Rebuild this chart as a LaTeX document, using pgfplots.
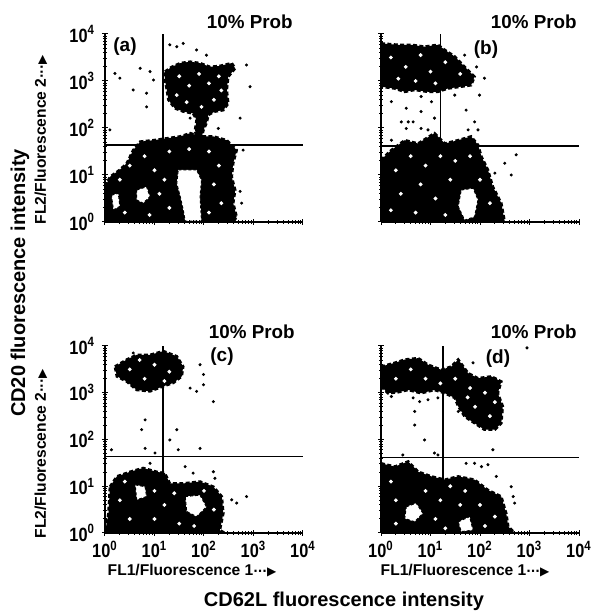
\documentclass[border=0pt]{standalone}
\usepackage{fontspec}
\setmainfont{Liberation Sans}
\newfontfamily\narrow[FakeStretch=0.85]{Liberation Sans}
\newfontfamily\dejavu{DejaVu Sans}
\usepackage{pgfplots}
\pgfplotsset{compat=1.18}

% minor ticks at log10(2..9) in each decade (axes are in decades)
\newcommand{\mticks}{0.301,0.477,0.602,0.699,0.778,0.845,0.903,0.954,
1.301,1.477,1.602,1.699,1.778,1.845,1.903,1.954,
2.301,2.477,2.602,2.699,2.778,2.845,2.903,2.954,
3.301,3.477,3.602,3.699,3.778,3.845,3.903,3.954}

\pgfplotsset{
  facs/.style={
    scale only axis, width=99pt, height=94pt,
    xmin=0, xmax=4, ymin=0, ymax=4,
    axis x line*=bottom, axis y line*=left,
    axis line style={line width=0.9pt},
    axis on top,
    xtick={0,1,2,3,4}, ytick={0,1,2,3,4},
    minor xtick=\mticks, minor ytick=\mticks,
    tick align=center, major tick length=3pt, minor tick length=2pt,
    tick style={black, line width=0.5pt},
    xticklabels={}, yticklabels={},
    tick label style={font=\narrow\bfseries\fontsize{9.6}{10}\selectfont},
    xticklabel style={yshift=1pt},
  },
  ylab/.style={yticklabels={10\textsuperscript{0},10\textsuperscript{1},10\textsuperscript{2},10\textsuperscript{3},10\textsuperscript{4}}},
  xlab/.style={xticklabels={10\textsuperscript{0},10\textsuperscript{1},10\textsuperscript{2},10\textsuperscript{3},10\textsuperscript{4}}},
  blob/.style={fill=black, draw=black, line width=1.3pt, dash pattern=on 2pt off 1.2pt},
  hole/.style={fill=white, draw=black, line width=0.5pt, dash pattern=on 1.5pt off 1pt},
  dots/.style={only marks, mark=*, mark size=0.55pt, black},
  specks/.style={only marks, mark=*, mark size=0.75pt, white},
  quad/.style={line width=0.7pt, black},
}

\begin{document}
\begin{tikzpicture}
\path[use as bounding box] (0,0) rectangle (296pt,305.5pt);

% ---------- (a)
\begin{axis}[facs, ylab, at={(52.5pt,194.5pt)}, anchor=south west]
\addplot[blob] coordinates {(1.21,3.20) (1.35,3.30) (1.52,3.38) (1.72,3.41) (1.92,3.38) (2.12,3.30) (2.32,3.32) (2.56,3.38) (2.63,3.27) (2.49,3.09) (2.46,2.81) (2.49,2.52) (2.39,2.38) (2.22,2.35) (2.09,2.28) (2.05,2.10) (1.99,1.96) (1.95,1.78) (1.85,1.74) (1.82,1.96) (1.85,2.17) (1.78,2.31) (1.58,2.35) (1.41,2.42) (1.28,2.60) (1.25,2.81) (1.21,3.02)} -- cycle;
\addplot[blob] coordinates {(0,0.75) (0.10,0.96) (0.30,1.11) (0.44,1.25) (0.57,1.53) (0.71,1.71) (0.98,1.74) (1.25,1.78) (1.52,1.82) (1.72,1.89) (1.92,1.82) (2.19,1.82) (2.46,1.74) (2.66,1.53) (2.59,1.25) (2.56,0.96) (2.63,0.68) (2.59,0.40) (2.66,0.11) (2.59,0) (0,0)} -- cycle;
\addplot[hole] coordinates {(1.48,1.11) (1.85,1.11) (1.95,0.89) (1.92,0.54) (1.95,0.02) (1.62,0.02) (1.58,0.26) (1.52,0.54) (1.45,0.82)} -- cycle;
\addplot[hole] coordinates {(0.64,0.68) (0.84,0.75) (0.91,0.54) (0.77,0.40) (0.64,0.47)} -- cycle;
\addplot[hole] coordinates {(0.13,0.57) (0.27,0.61) (0.30,0.33) (0.17,0.26)} -- cycle;
\addplot[specks] coordinates {(1.5,3.1) (1.7,2.9) (1.9,3.15) (2.1,2.95) (2.3,3.1) (1.45,2.7) (2.2,2.6) (1.65,2.55) (1.95,2.45) (2.35,2.8) (0.3,0.9) (0.5,1.2) (0.8,1.4) (1.0,1.1) (1.3,1.5) (1.7,1.55) (2.1,1.5) (2.3,1.2) (2.2,0.8) (2.35,0.4) (1.1,0.6) (1.3,0.3) (0.4,0.2) (0.9,0.15) (2.1,0.2) (1.2,0.9) (0.2,0.45)};
\addplot[quad] coordinates {(1.17,0) (1.17,4)};
\addplot[quad] coordinates {(0,1.64) (4,1.64)};
\addplot[dots] coordinates {(0.20,3.16) (0.30,3.06) (0.71,3.27) (0.91,3.20) (0.98,3.02) (0.57,2.81) (0.84,2.74) (1.31,3.77) (1.45,3.73) (1.58,3.80) (1.85,3.66) (2.05,3.55) (2.86,3.34) (2.93,2.88) (2.73,2.21) (2.29,1.99) (1.72,2.21) (0.10,1.96) (0.84,2.45) (2.73,0.65) (2.76,0.40) (2.79,1.53)};
\end{axis}

% ---------- (b)
\begin{axis}[facs, at={(190.5pt,194.5pt)}, anchor=south west]
\addplot[blob] coordinates {(0,3.80) (0.34,3.77) (0.61,3.77) (0.88,3.73) (1.15,3.77) (1.29,3.66) (1.49,3.52) (1.69,3.30) (1.89,3.09) (1.82,2.91) (1.62,2.88) (1.35,2.84) (1.15,2.77) (0.95,2.77) (0.68,2.81) (0.48,2.77) (0.28,2.84) (0,2.88)} -- cycle;
\addplot[blob] coordinates {(0,1.32) (0.21,1.53) (0.48,1.74) (0.75,1.67) (1.08,1.89) (1.29,1.67) (1.56,1.74) (1.82,1.82) (1.96,1.64) (2.03,1.39) (2.16,1.11) (2.26,0.75) (2.43,0.40) (2.50,0) (0,0)} -- cycle;
\addplot[hole] coordinates {(1.62,0.68) (1.86,0.72) (1.96,0.47) (1.89,0.11) (1.69,0.04) (1.56,0.33)} -- cycle;
\addplot[specks] coordinates {(0.2,3.5) (0.5,3.3) (0.8,3.55) (1.0,3.2) (1.3,3.4) (1.6,3.15) (0.35,3.05) (0.7,3.0) (1.1,2.95) (0.3,1.1) (0.6,1.4) (0.9,1.2) (1.2,1.4) (1.5,1.3) (1.8,1.4) (0.4,0.6) (0.8,0.8) (1.1,0.5) (1.4,0.9) (2.0,0.9) (2.2,0.4) (0.2,0.25) (0.7,0.2) (1.3,0.15)};
\addplot[quad] coordinates {(1.20,0) (1.20,4)};
\addplot[quad] coordinates {(0,1.62) (4,1.62)};
\addplot[dots] coordinates {(0.21,2.56) (0.51,2.42) (0.41,2.13) (0.55,2.13) (0.65,2.13) (0.51,1.99) (0.81,2.35) (1.02,2.56) (0.81,1.99) (0.95,1.96) (0.21,1.74) (1.72,2.38) (1.89,2.13) (1.76,1.96) (1.96,1.96) (2.09,3.06) (1.93,3.30) (1.99,2.70) (1.69,3.55) (2.73,1.43) (2.50,1.25) (2.63,1.00) (2.30,1.04) (1.08,2.21) (0.81,2.67) (1.49,2.70)};
\end{axis}

% ---------- (c)
\begin{axis}[facs, ylab, xlab, height=93.5pt, at={(52.5pt,39pt)}, anchor=south west]
\addplot[blob] coordinates {(0.20,3.56) (0.44,3.71) (0.64,3.81) (0.91,3.81) (1.18,3.89) (1.45,3.78) (1.58,3.56) (1.55,3.35) (1.38,3.21) (1.18,3.14) (0.91,3.03) (0.64,3.06) (0.44,3.24) (0.24,3.35)} -- cycle;
\addplot[blob] coordinates {(0.10,0.99) (0.24,1.21) (0.51,1.31) (0.77,1.39) (1.04,1.31) (1.21,1.28) (1.31,1.06) (1.58,1.06) (1.92,1.10) (2.19,0.99) (2.36,0.78) (2.39,0.42) (2.32,0.06) (2.42,0) (0,0) (0.07,0.42)} -- cycle;
\addplot[hole] coordinates {(0.61,1.03) (0.81,0.99) (0.84,0.78) (0.64,0.71)} -- cycle;
\addplot[hole] coordinates {(1.62,0.78) (1.92,0.81) (2.05,0.56) (1.85,0.35) (1.65,0.46)} -- cycle;
\addplot[specks] coordinates {(0.5,3.5) (0.8,3.3) (1.0,3.6) (1.3,3.45) (0.7,3.7) (1.2,3.25) (0.3,0.7) (0.4,1.1) (1.0,0.9) (1.2,0.6) (1.4,0.85) (2.2,0.5) (1.0,0.3) (0.5,0.3) (1.5,0.2) (2.0,0.9) (1.8,0.15)};
\addplot[quad] coordinates {(1.17,0) (1.17,4)};
\addplot[quad] coordinates {(0,1.64) (4,1.64)};
\addplot[dots] coordinates {(0.57,3.85) (1.92,3.60) (1.99,3.39) (1.72,3.10) (1.85,3.03) (2.19,2.81) (1.99,3.17) (0.81,2.42) (0.74,2.21) (0.81,1.81) (0.13,1.78) (1.45,2.21) (1.31,1.99) (1.48,1.78) (1.92,1.81) (1.01,1.71) (1.78,1.28) (2.19,1.31) (2.22,1.17) (2.66,0.64) (2.86,0.78) (2.56,0.71) (0.91,1.49) (1.62,1.42)};
\end{axis}

% ---------- (d)
\begin{axis}[facs, xlab, height=93.5pt, at={(190.5pt,39pt)}, anchor=south west]
\addplot[blob] coordinates {(0,3.56) (0.28,3.64) (0.48,3.71) (0.75,3.74) (0.95,3.60) (1.22,3.49) (1.42,3.56) (1.56,3.71) (1.76,3.42) (1.96,3.31) (2.23,3.35) (2.43,3.24) (2.36,2.99) (2.46,2.71) (2.43,2.35) (2.30,2.21) (2.09,2.21) (1.89,2.35) (1.69,2.49) (1.56,2.71) (1.49,2.89) (1.29,2.99) (1.08,3.06) (0.81,2.99) (0.55,3.06) (0.34,3.01) (0.14,2.99) (0,3.14)} -- cycle;
\addplot[blob] coordinates {(0,1.49) (0.28,1.42) (0.55,1.53) (0.75,1.31) (1.02,1.21) (1.29,1.14) (1.56,1.21) (1.89,1.14) (2.16,0.92) (2.43,0.78) (2.53,0.42) (2.57,0.14) (2.70,0) (0,0)} -- cycle;
\addplot[hole] coordinates {(0.51,0.56) (0.71,0.64) (0.85,0.42) (0.68,0.24) (0.48,0.31)} -- cycle;
\addplot[hole] coordinates {(1.56,0.24) (1.79,0.35) (1.86,0.06) (1.62,0.03)} -- cycle;
\addplot[specks] coordinates {(0.3,3.3) (0.6,3.5) (0.9,3.3) (1.2,3.2) (1.5,3.3) (1.8,3.1) (2.1,3.0) (1.9,2.7) (2.2,2.5) (1.75,2.9) (2.3,2.8) (0.2,1.1) (0.3,0.7) (0.9,0.9) (1.2,0.7) (1.4,1.0) (1.7,0.9) (2.0,0.6) (2.3,0.35) (1.1,0.3) (0.3,0.2) (1.3,0.1) (2.1,0.15) (1.6,0.6)};
\addplot[quad] coordinates {(1.25,0) (1.25,4)};
\addplot[quad] coordinates {(0,1.62) (4,1.62)};
\addplot[dots] coordinates {(0.21,2.92) (0.65,2.89) (0.78,2.81) (0.95,2.85) (0.68,2.60) (0.68,2.31) (0.88,1.99) (1.15,2.89) (1.56,2.60) (1.86,3.64) (2.26,1.78) (0.44,1.67) (1.08,1.71) (1.15,1.67) (1.72,1.49) (1.89,1.49) (2.16,1.46) (2.63,0.99) (2.67,0.78) (2.70,0.64) (2.33,1.21) (2.03,1.42) (2.95,3.96)};
\end{axis}

% ---------- texts
\begin{scope}[every node/.style={inner sep=0pt}]
\node[anchor=east, font=\bfseries\fontsize{9.4}{10}\selectfont] at (146.5pt,294.5pt) {10\% Prob};
\node[anchor=east, font=\bfseries\fontsize{9.4}{10}\selectfont] at (288.5pt,294.5pt) {10\% Prob};
\node[anchor=east, font=\bfseries\fontsize{9.4}{10}\selectfont] at (147.5pt,139.5pt) {10\% Prob};
\node[anchor=east, font=\bfseries\fontsize{9.4}{10}\selectfont] at (288.5pt,139.5pt) {10\% Prob};
\node[font=\bfseries\fontsize{9.5}{10}\selectfont] at (62.5pt,282pt) {(a)};
\node[font=\bfseries\fontsize{9.5}{10}\selectfont] at (243pt,280.5pt) {(b)};
\node[font=\bfseries\fontsize{9.5}{10}\selectfont] at (111pt,127pt) {(c)};
\node[font=\bfseries\fontsize{9.5}{10}\selectfont] at (249pt,126pt) {(d)};
\node[rotate=90, font=\bfseries\fontsize{7.8}{8}\selectfont] at (20.5pt,235.5pt) {FL2/Fluorescence 2{\dejavu\fontsize{6}{6}\selectfont ···▶}};
\node[rotate=90, font=\bfseries\fontsize{7.8}{8}\selectfont] at (20.5pt,78.5pt) {FL2/Fluorescence 2{\dejavu\fontsize{6}{6}\selectfont ···▶}};
\node[font=\bfseries\fontsize{7.8}{8}\selectfont] at (96pt,20pt) {FL1/Fluorescence 1{\dejavu\fontsize{6}{6}\selectfont ···▶}};
\node[font=\bfseries\fontsize{7.8}{8}\selectfont] at (232.5pt,20pt) {FL1/Fluorescence 1{\dejavu\fontsize{6}{6}\selectfont ···▶}};
\node[rotate=90, font=\bfseries\fontsize{10}{11}\selectfont] at (10pt,164pt) {CD20 fluorescence intensity};
\node[font=\bfseries\fontsize{10}{11}\selectfont] at (172pt,5pt) {CD62L fluorescence intensity};
\end{scope}
\end{tikzpicture}
\end{document}
